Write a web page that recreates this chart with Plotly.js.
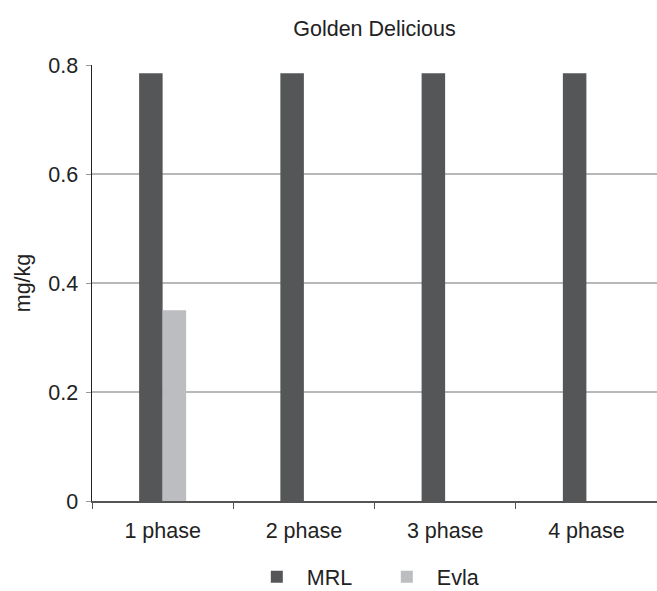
<!DOCTYPE html>
<html>
<head>
<meta charset="utf-8">
<script src="https://cdn.plot.ly/plotly-3.0.1.min.js"></script>
<style>html,body{margin:0;padding:0;background:#fff;}#chart{width:657px;height:591px;}</style>
</head>
<body>
<div id="chart"></div>
<script>
var categories = ['1 phase', '2 phase', '3 phase', '4 phase'];
var mrlValues = [0.785, 0.785, 0.785, 0.785];
var evlaValues = [0.35, 0, 0, 0];
var yTicks = [0, 0.2, 0.4, 0.6, 0.8];
var yTickLabels = ['0', '0.2', '0.4', '0.6', '0.8'];

var FONT = '"Liberation Sans", Arial, sans-serif';
var FS = 21.5;

var traces = [
  {type: 'bar', name: 'MRL', x: categories, y: mrlValues, marker: {color: '#555657', line: {width: 0}}},
  {type: 'bar', name: 'Evla', x: categories, y: evlaValues, marker: {color: '#bcbdc0', line: {width: 0}}}
];

var layout = {
  width: 657, height: 591,
  margin: {l: 92, r: 0, t: 65, b: 90},
  paper_bgcolor: '#fff', plot_bgcolor: '#fff',
  font: {family: FONT, size: FS, color: '#222'},
  title: {text: 'Golden Delicious', font: {family: FONT, size: FS, color: '#222'}, x: 0.57, xanchor: 'center', y: 0.951, yanchor: 'middle'},
  barmode: 'group',
  bargap: 0.667,
  bargroupgap: 0,
  showlegend: true,
  legend: {orientation: 'h', xref: 'paper', x: 0.274, xanchor: 'left', yref: 'container', y: 0.024, yanchor: 'middle', itemwidth: 50, entrywidth: 65, entrywidthmode: 'pixels', font: {family: FONT, size: FS, color: '#222'}, bgcolor: 'rgba(0,0,0,0)'},
  xaxis: {
    type: 'category', tickson: 'boundaries', ticks: 'outside', ticklen: 6, tickcolor: '#555', tickwidth: 1,
    showline: true, linecolor: '#555', linewidth: 1.5, showgrid: false, zeroline: false,
    tickfont: {family: FONT, size: FS, color: '#222'}, ticklabelstandoff: 10
  },
  yaxis: {
    range: [0, 0.8], tickvals: yTicks, ticktext: yTickLabels, ticks: 'outside', ticklen: 5, tickcolor: '#999', tickwidth: 1,
    showline: true, linecolor: '#222', linewidth: 1.5, showgrid: true, gridcolor: '#b8b8b8', gridwidth: 1.3, zeroline: false,
    tickfont: {family: FONT, size: FS, color: '#222'}, ticklabelstandoff: 3,
    title: {text: 'mg/kg', font: {family: FONT, size: FS, color: '#222'}, standoff: 12}
  }
};

Plotly.newPlot('chart', traces, layout, {displayModeBar: false, staticPlot: true});
</script>
</body>
</html>
